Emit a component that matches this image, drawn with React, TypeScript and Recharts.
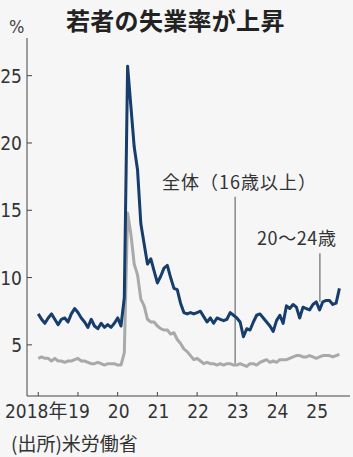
import React from "react";
import { LineChart, Line, XAxis, YAxis, ReferenceLine } from "recharts";

// monthly, Jan 2018 .. Aug 2025
const youth20to24 = [
	7.3, 6.9, 6.6, 7.0, 7.3, 6.9, 6.5, 6.9, 7.0, 6.7, 7.3, 7.7,
	7.4, 7.0, 6.7, 6.3, 6.9, 6.4, 6.2, 6.6, 6.3, 6.5, 6.3, 6.6,
	7.0, 6.4, 8.5, 25.7, 22.7, 19.7, 18.0, 14.0, 12.5, 11.0, 11.4, 10.5,
	9.6, 10.1, 10.7, 10.9, 10.0, 9.2, 9.1, 8.1, 7.4, 7.3, 7.4, 7.3,
	7.4, 7.5, 7.1, 6.7, 7.0, 6.6, 7.0, 6.9, 6.8, 6.9, 7.4, 7.2,
	7.0, 6.7, 5.6, 6.2, 6.1, 6.7, 7.2, 7.3, 7.0, 6.7, 6.4, 6.0,
	6.8, 7.2, 6.6, 7.9, 7.7, 8.0, 7.8, 7.0, 7.8, 7.7, 7.6, 8.0,
	8.2, 7.6, 8.2, 8.3, 8.3, 8.0, 8.1, 9.2,
];
const allWorkers = [
	4.0, 4.1, 4.0, 4.0, 3.8, 4.0, 3.8, 3.8, 3.7, 3.8, 3.8, 3.9,
	4.0, 3.8, 3.8, 3.7, 3.6, 3.6, 3.7, 3.6, 3.5, 3.6, 3.6, 3.6,
	3.5, 3.5, 4.4, 14.8, 13.2, 11.0, 10.2, 8.4, 7.9, 6.9, 6.7, 6.7,
	6.4, 6.2, 6.1, 6.1, 5.8, 5.9, 5.4, 5.1, 4.7, 4.5, 4.2, 3.9,
	4.0, 3.8, 3.6, 3.7, 3.6, 3.6, 3.5, 3.6, 3.5, 3.6, 3.6, 3.5,
	3.5, 3.6, 3.5, 3.4, 3.6, 3.6, 3.5, 3.7, 3.8, 3.9, 3.7, 3.8,
	3.7, 3.9, 3.9, 3.9, 4.0, 4.1, 4.2, 4.2, 4.1, 4.1, 4.2, 4.1,
	4.0, 4.1, 4.2, 4.2, 4.2, 4.1, 4.2, 4.3,
];
const xTicks = [0, 12, 24, 36, 48, 60, 72, 84];
const xTickLabels = ["2018年", "19", "20", "21", "22", "23", "24", "25"];
const yTicks = [5, 10, 15, 20, 25];

const data = youth20to24.map((v, i) => ({ i, youth: v, all: allWorkers[i] }));

const NAVY = "#163d6b";
const GRAY = "#a9a9a9";
const TICK_FONT = '"Liberation Sans Narrow", "DejaVu Sans Condensed", "Noto Sans CJK JP", sans-serif';
const JP_FONT = '"Noto Sans CJK JP", sans-serif';

const XTick = (props: any) => {
	const { x, y, payload } = props;
	const idx = xTicks.indexOf(payload.value);
	// first label is pulled a little left so it clears "19"
	const dx = idx === 0 ? -2 : 1;
	return (
		<g>
			<line x1={x} x2={x} y1={y - 4} y2={y} stroke="#444" strokeWidth={1} />
			<text x={x + dx} y={y + 22} textAnchor="middle" fontSize={19} fill="#333" fontFamily={TICK_FONT}>
				{xTickLabels[idx]}
			</text>
		</g>
	);
};

const YTick = (props: any) => {
	const { x, y, payload } = props;
	return (
		<g>
			<line x1={x} x2={x + 5} y1={y} y2={y} stroke="#444" strokeWidth={1} />
			<text x={x - 5} y={y + 7} textAnchor="end" fontSize={19} fill="#333" fontFamily={TICK_FONT}>
				{payload.value}
			</text>
		</g>
	);
};

export default function App() {
	return (
		<div
			style={{
				position: "absolute",
				left: 0,
				top: 0,
				width: 353,
				height: 457,
				background: "#f6f6f7",
				overflow: "hidden",
			}}
		>
			<div style={{ position: "absolute", left: 9, top: 18, fontSize: 18, lineHeight: 1, color: "#444", fontFamily: TICK_FONT }}>%</div>
			<div
				style={{
					position: "absolute",
					left: 66,
					top: 2,
					fontSize: 24,
					fontWeight: 700,
					color: "#222",
					fontFamily: JP_FONT,
					letterSpacing: 0.3,
				}}
			>
				若者の失業率が上昇
			</div>
			<LineChart width={353} height={457} data={data} margin={{ top: 38, right: 3, bottom: 0, left: 0 }}>
				<XAxis
					dataKey="i"
					type="number"
					domain={[-3.4, 94.2]}
					ticks={xTicks}
					tick={<XTick />}
					tickSize={0}
					tickMargin={0}
					height={61}
					stroke="#444"
					allowDataOverflow
				/>
				<YAxis
					type="number"
					domain={[1.2, 27.8]}
					ticks={yTicks}
					tick={<YTick />}
					tickSize={0}
					tickMargin={0}
					width={27}
					stroke="#444"
					allowDataOverflow
				/>
				<ReferenceLine segment={[{ x: 59.5, y: 16.0 }, { x: 59.5, y: 3.6 }]} stroke="#888" strokeWidth={1.5} />
				<ReferenceLine segment={[{ x: 85.1, y: 11.8 }, { x: 85.1, y: 8.2 }]} stroke="#888" strokeWidth={1.5} />
				<Line dataKey="all" stroke={GRAY} strokeWidth={3} dot={false} isAnimationActive={false} strokeLinejoin="round" />
				<Line dataKey="youth" stroke={NAVY} strokeWidth={3} dot={false} isAnimationActive={false} strokeLinejoin="round" />
			</LineChart>
			<div style={{ position: "absolute", left: 162, top: 171, fontSize: 18, lineHeight: 1.2, letterSpacing: 1, color: "#333", fontFamily: JP_FONT, whiteSpace: "nowrap" }}>
				全体（16歳以上）
			</div>
			<div style={{ position: "absolute", left: 257, top: 227, fontSize: 18, lineHeight: 1.2, letterSpacing: 0.6, color: "#333", fontFamily: JP_FONT, whiteSpace: "nowrap" }}>
				20～24歳
			</div>
			<div style={{ position: "absolute", left: 11, top: 433, fontSize: 19, lineHeight: 1.1, color: "#333", fontFamily: JP_FONT, whiteSpace: "nowrap" }}>
				(出所)米労働省
			</div>
		</div>
	);
}
